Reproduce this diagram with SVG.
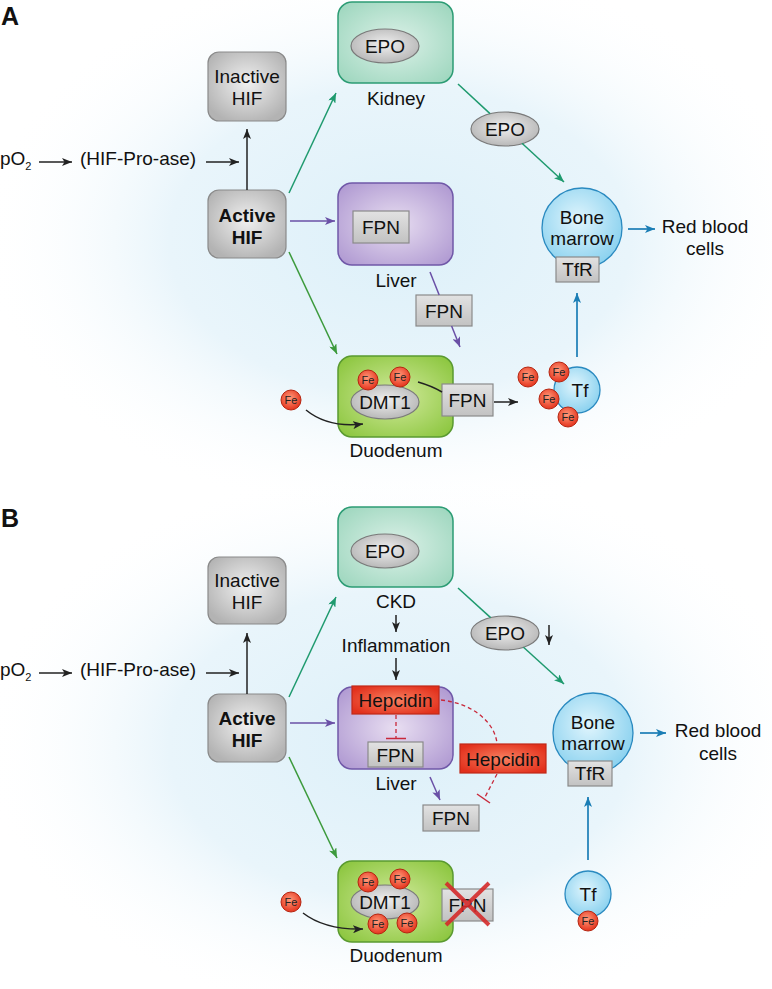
<svg xmlns="http://www.w3.org/2000/svg" width="772" height="989" viewBox="0 0 772 989">
<defs>
<style>
.t{font-family:"Liberation Sans",Arial,Helvetica,sans-serif;font-size:19px;fill:#111;text-anchor:middle}
.b{font-weight:bold}
.lbl{font-family:"Liberation Sans",Arial,Helvetica,sans-serif;font-size:25px;font-weight:bold;fill:#111}
.fe{font-family:"Liberation Sans",Arial,Helvetica,sans-serif;font-size:11px;fill:#222;text-anchor:middle}
.gbox{fill:url(#gGray);stroke:#8a8a8a;stroke-width:1.2}
.rbox{fill:url(#gRect);stroke:#8a8a8a;stroke-width:1.2}
.ell{fill:url(#gGray);stroke:#7a7a7a;stroke-width:1.2}
.kid{fill:url(#gKid);stroke:#2c9c74;stroke-width:1.5}
.liv{fill:url(#gLiv);stroke:#7058a8;stroke-width:1.5}
.duo{fill:url(#gDuo);stroke:#5a9a30;stroke-width:1.5}
.bm{fill:url(#gBlue);stroke:#2a8ac0;stroke-width:1.3}
.hep{fill:url(#gHep);stroke:#c02818;stroke-width:1.2}
.fec{fill:url(#gFe);stroke:#b52510;stroke-width:1}
.k{stroke:#222;stroke-width:1.5;fill:none}
.tl{stroke:#1e9a6e;stroke-width:1.5;fill:none}
.pu{stroke:#6a50a6;stroke-width:1.5;fill:none}
.gr{stroke:#3c9a3c;stroke-width:1.5;fill:none}
.bl{stroke:#1a7db5;stroke-width:1.7;fill:none}
.rd{stroke:#c8283a;stroke-width:1.3;fill:none;stroke-dasharray:4 3}
</style>
<radialGradient id="bg" cx="0.5" cy="0.5" r="0.5">
<stop offset="0" stop-color="#ddf0f9"/><stop offset="0.55" stop-color="#e9f5fb"/><stop offset="1" stop-color="#ffffff" stop-opacity="0"/>
</radialGradient>
<radialGradient id="gGray" cx="0.5" cy="0.45" r="0.6"><stop offset="0" stop-color="#f0f0f0"/><stop offset="1" stop-color="#b3b3b3"/></radialGradient>
<linearGradient id="gRect" x1="0" y1="0" x2="0" y2="1"><stop offset="0" stop-color="#e2e2e2"/><stop offset="1" stop-color="#c2c2c2"/></linearGradient>
<radialGradient id="gKid" cx="0.5" cy="0.5" r="0.65"><stop offset="0" stop-color="#dcf1e8"/><stop offset="1" stop-color="#9fd7bf"/></radialGradient>
<radialGradient id="gLiv" cx="0.5" cy="0.5" r="0.65"><stop offset="0" stop-color="#e8def1"/><stop offset="1" stop-color="#b09ad2"/></radialGradient>
<radialGradient id="gDuo" cx="0.5" cy="0.5" r="0.65"><stop offset="0" stop-color="#d2ea9c"/><stop offset="1" stop-color="#8cc63f"/></radialGradient>
<radialGradient id="gBlue" cx="0.45" cy="0.4" r="0.6"><stop offset="0" stop-color="#e0f5fd"/><stop offset="1" stop-color="#8cd2ef"/></radialGradient>
<radialGradient id="gHep" cx="0.5" cy="0.5" r="0.6"><stop offset="0" stop-color="#f88060"/><stop offset="1" stop-color="#e2301c"/></radialGradient>
<radialGradient id="gFe" cx="0.45" cy="0.4" r="0.6"><stop offset="0" stop-color="#ff9a7a"/><stop offset="1" stop-color="#e5341e"/></radialGradient>
<marker id="aK" viewBox="0 0 10 8" refX="10" refY="4" markerWidth="10" markerHeight="8" orient="auto" markerUnits="userSpaceOnUse"><path d="M0,0 L10,4 L0,8 L2.5,4 z" fill="#222"/></marker>
<marker id="aT" viewBox="0 0 10 8" refX="10" refY="4" markerWidth="10" markerHeight="8" orient="auto" markerUnits="userSpaceOnUse"><path d="M0,0 L10,4 L0,8 L2.5,4 z" fill="#1e9a6e"/></marker>
<marker id="aP" viewBox="0 0 10 8" refX="10" refY="4" markerWidth="10" markerHeight="8" orient="auto" markerUnits="userSpaceOnUse"><path d="M0,0 L10,4 L0,8 L2.5,4 z" fill="#6a50a6"/></marker>
<marker id="aG" viewBox="0 0 10 8" refX="10" refY="4" markerWidth="10" markerHeight="8" orient="auto" markerUnits="userSpaceOnUse"><path d="M0,0 L10,4 L0,8 L2.5,4 z" fill="#3c9a3c"/></marker>
<marker id="aB" viewBox="0 0 10 8" refX="10" refY="4" markerWidth="10" markerHeight="8" orient="auto" markerUnits="userSpaceOnUse"><path d="M0,0 L10,4 L0,8 L2.5,4 z" fill="#1a7db5"/></marker>
</defs>

<rect width="772" height="989" fill="#ffffff"/>
<ellipse cx="400" cy="240" rx="420" ry="280" fill="url(#bg)"/>
<ellipse cx="400" cy="745" rx="420" ry="280" fill="url(#bg)"/>

<text class="lbl" x="1" y="25">A</text>
<text class="lbl" x="1" y="527">B</text>

<!-- Panel A nodes -->
<g id="pO2-A"><text class="t" x="0" y="165" style="text-anchor:start">pO<tspan font-size="11" dy="5">2</tspan></text></g>
<g id="hifproase-A"><text class="t" x="80" y="165" style="text-anchor:start">(HIF-Pro-ase)</text></g>
<g id="inactive-A"><rect class="gbox" x="208" y="52" width="78" height="69" rx="11"/><text class="t" x="247" y="83">Inactive</text><text class="t" x="247" y="105">HIF</text></g>
<g id="active-A"><rect class="gbox" x="208" y="190" width="78" height="68" rx="11"/><text class="t b" x="247" y="222">Active</text><text class="t b" x="247" y="244">HIF</text></g>
<g id="kidney-A"><rect class="kid" x="338" y="2" width="115" height="81" rx="14"/><ellipse class="ell" cx="385" cy="46" rx="34" ry="17"/><text class="t" x="385" y="53">EPO</text><text class="t" x="396" y="105">Kidney</text></g>
<g id="epo-A"><ellipse class="ell" cx="505" cy="129" rx="34" ry="17"/><text class="t" x="505" y="136">EPO</text></g>
<g id="liver-A"><rect class="liv" x="338" y="183" width="115" height="82" rx="14"/><rect class="rbox" x="353" y="211" width="56" height="32"/><text class="t" x="381" y="234">FPN</text><text class="t" x="396" y="287">Liver</text></g>
<g id="fpn-liver-A"><rect class="rbox" x="416" y="295" width="56" height="31"/><text class="t" x="444" y="318">FPN</text></g>
<g id="duodenum-A"><rect class="duo" x="338" y="356" width="115" height="81" rx="14"/><ellipse class="ell" cx="385" cy="402" rx="34" ry="17"/><text class="t" x="385" y="409">DMT1</text>
<circle class="fec" cx="368" cy="380" r="10"/><text class="fe" x="368" y="384">Fe</text>
<circle class="fec" cx="400" cy="377" r="10"/><text class="fe" x="400" y="381">Fe</text>
<text class="t" x="396" y="457">Duodenum</text></g>
<g id="fpn-duo-A"><rect class="rbox" x="442" y="384" width="51" height="32"/><text class="t" x="467.5" y="407">FPN</text></g>
<g id="fe-in-A"><circle class="fec" cx="291" cy="400" r="10"/><text class="fe" x="291" y="404">Fe</text></g>
<g id="fe-free-A"><circle class="fec" cx="528" cy="377" r="10"/><text class="fe" x="528" y="381">Fe</text></g>
<g id="tf-A"><circle class="bm" cx="577" cy="390" r="23"/><text class="t" x="580" y="397">Tf</text>
<circle class="fec" cx="559" cy="372" r="10"/><text class="fe" x="559" y="376">Fe</text>
<circle class="fec" cx="549" cy="399" r="10"/><text class="fe" x="549" y="403">Fe</text>
<circle class="fec" cx="568" cy="417" r="10"/><text class="fe" x="568" y="421">Fe</text></g>
<g id="bonemarrow-A"><circle class="bm" cx="582" cy="228" r="40"/><text class="t" x="582" y="224">Bone</text><text class="t" x="582" y="245">marrow</text><rect class="rbox" x="556" y="257" width="43" height="25"/><text class="t" x="577.5" y="276">TfR</text></g>
<g id="rbc-A"><text class="t" x="705" y="233">Red blood</text><text class="t" x="705" y="255">cells</text></g>

<!-- Panel B nodes -->
<g id="pO2-B"><text class="t" x="0" y="676" style="text-anchor:start">pO<tspan font-size="11" dy="5">2</tspan></text></g>
<g id="hifproase-B"><text class="t" x="80" y="676" style="text-anchor:start">(HIF-Pro-ase)</text></g>
<g id="inactive-B"><rect class="gbox" x="208" y="557" width="78" height="67" rx="11"/><text class="t" x="247" y="587">Inactive</text><text class="t" x="247" y="609">HIF</text></g>
<g id="active-B"><rect class="gbox" x="208" y="694" width="78" height="68" rx="11"/><text class="t b" x="247" y="725">Active</text><text class="t b" x="247" y="747">HIF</text></g>
<g id="kidney-B"><rect class="kid" x="338" y="507" width="115" height="80" rx="14"/><ellipse class="ell" cx="385" cy="551" rx="34" ry="17"/><text class="t" x="385" y="558">EPO</text></g>
<g id="ckd-B"><text class="t" x="396" y="608">CKD</text></g>
<g id="inflammation-B"><text class="t" x="396" y="652">Inflammation</text></g>
<g id="epo-B"><ellipse class="ell" cx="505" cy="633" rx="34" ry="17"/><text class="t" x="505" y="640">EPO</text></g>
<g id="liver-B"><rect class="liv" x="338" y="687" width="115" height="82" rx="14"/><rect class="hep" x="352" y="686" width="87" height="28"/><text class="t" x="395.5" y="707">Hepcidin</text><rect class="rbox" x="368" y="742" width="55" height="25"/><text class="t" x="395.5" y="762">FPN</text><text class="t" x="396" y="790">Liver</text></g>
<g id="hepcidin-B"><rect class="hep" x="460" y="744" width="86" height="29"/><text class="t" x="503" y="766">Hepcidin</text></g>
<g id="fpn-liver-B"><rect class="rbox" x="423" y="805" width="56" height="26"/><text class="t" x="451" y="825">FPN</text></g>
<g id="duodenum-B"><rect class="duo" x="338" y="861" width="115" height="81" rx="14"/><ellipse class="ell" cx="385" cy="902" rx="34" ry="17"/><text class="t" x="385" y="909">DMT1</text>
<circle class="fec" cx="368" cy="882" r="10"/><text class="fe" x="368" y="886">Fe</text>
<circle class="fec" cx="400" cy="879" r="10"/><text class="fe" x="400" y="883">Fe</text>
<circle class="fec" cx="378" cy="924" r="10"/><text class="fe" x="378" y="928">Fe</text>
<circle class="fec" cx="407" cy="923" r="10"/><text class="fe" x="407" y="927">Fe</text>
<text class="t" x="396" y="962">Duodenum</text></g>
<g id="fpn-duo-B"><rect class="rbox" x="442" y="889" width="51" height="32"/><text class="t" x="467.5" y="912">FPN</text>
<path d="M446,883 L489,925 M489,883 L446,925" stroke="#d42a2a" stroke-width="4" stroke-opacity="0.9" fill="none"/></g>
<g id="fe-in-B"><circle class="fec" cx="291" cy="902" r="10"/><text class="fe" x="291" y="906">Fe</text></g>
<g id="tf-B"><circle class="bm" cx="588" cy="894" r="23"/><text class="t" x="588" y="901">Tf</text><circle class="fec" cx="588" cy="921" r="10"/><text class="fe" x="588" y="925">Fe</text></g>
<g id="bonemarrow-B"><circle class="bm" cx="593" cy="733" r="40"/><text class="t" x="593" y="729">Bone</text><text class="t" x="593" y="750">marrow</text><rect class="rbox" x="568" y="761" width="44" height="25"/><text class="t" x="590" y="780">TfR</text></g>
<g id="rbc-B"><text class="t" x="718" y="737">Red blood</text><text class="t" x="718" y="760">cells</text></g>

<!-- connectors -->
<g id="connectors">
<!-- Panel A -->
<line class="k" x1="39" y1="162" x2="72" y2="162" marker-end="url(#aK)"/>
<line class="k" x1="206" y1="162" x2="239" y2="162" marker-end="url(#aK)"/>
<line class="k" x1="247" y1="190" x2="247" y2="129" marker-end="url(#aK)"/>
<line class="tl" x1="289" y1="193" x2="336" y2="93" marker-end="url(#aT)"/>
<line class="pu" x1="290" y1="221" x2="335" y2="221" marker-end="url(#aP)"/>
<line class="gr" x1="289" y1="252" x2="337" y2="354" marker-end="url(#aG)"/>
<line class="tl" x1="458" y1="84" x2="490" y2="113.6"/>
<line class="tl" x1="522" y1="143.3" x2="564" y2="182" marker-end="url(#aT)"/>
<line class="pu" x1="430" y1="272" x2="439.2" y2="295"/>
<line class="pu" x1="451.6" y1="326" x2="460" y2="347" marker-end="url(#aP)"/>
<path class="k" d="M418,382 Q432,386 442,392"/>
<line class="k" x1="494" y1="402" x2="518" y2="402" marker-end="url(#aK)"/>
<path class="k" d="M306,410 Q328,428 363,424" marker-end="url(#aK)"/>
<line class="bl" x1="577" y1="357" x2="577" y2="293" marker-end="url(#aB)"/>
<line class="bl" x1="628" y1="229" x2="655" y2="229" marker-end="url(#aB)"/>
<!-- Panel B -->
<line class="k" x1="39" y1="673" x2="72" y2="673" marker-end="url(#aK)"/>
<line class="k" x1="206" y1="673" x2="239" y2="673" marker-end="url(#aK)"/>
<line class="k" x1="247" y1="694" x2="247" y2="633" marker-end="url(#aK)"/>
<line class="tl" x1="289" y1="697" x2="336" y2="597" marker-end="url(#aT)"/>
<line class="pu" x1="290" y1="723" x2="335" y2="723" marker-end="url(#aP)"/>
<line class="gr" x1="289" y1="757" x2="337" y2="858" marker-end="url(#aG)"/>
<line class="tl" x1="458" y1="588" x2="490.6" y2="617.6"/>
<line class="tl" x1="523.5" y1="647.3" x2="564" y2="684" marker-end="url(#aT)"/>
<line class="k" x1="396" y1="615" x2="396" y2="632" marker-end="url(#aK)"/>
<line class="k" x1="396" y1="658" x2="396" y2="680" marker-end="url(#aK)"/>
<line class="k" x1="549" y1="625" x2="549" y2="645" marker-end="url(#aK)"/>
<line class="rd" x1="396" y1="715" x2="396" y2="738"/>
<line x1="386" y1="738.5" x2="406" y2="738.5" stroke="#c8283a" stroke-width="1.5"/>
<path class="rd" d="M441,700 C470,703 494,720 497,743"/>
<line class="rd" x1="497" y1="774" x2="484" y2="799"/>
<line x1="477" y1="794" x2="490" y2="803" stroke="#c8283a" stroke-width="1.5"/>
<line class="pu" x1="430" y1="777" x2="440" y2="800" marker-end="url(#aP)"/>
<path class="k" d="M303,913 Q325,930 363,929" marker-end="url(#aK)"/>
<line class="bl" x1="588" y1="860" x2="588" y2="797" marker-end="url(#aB)"/>
<line class="bl" x1="640" y1="733" x2="666" y2="733" marker-end="url(#aB)"/>
</g>
</svg>
